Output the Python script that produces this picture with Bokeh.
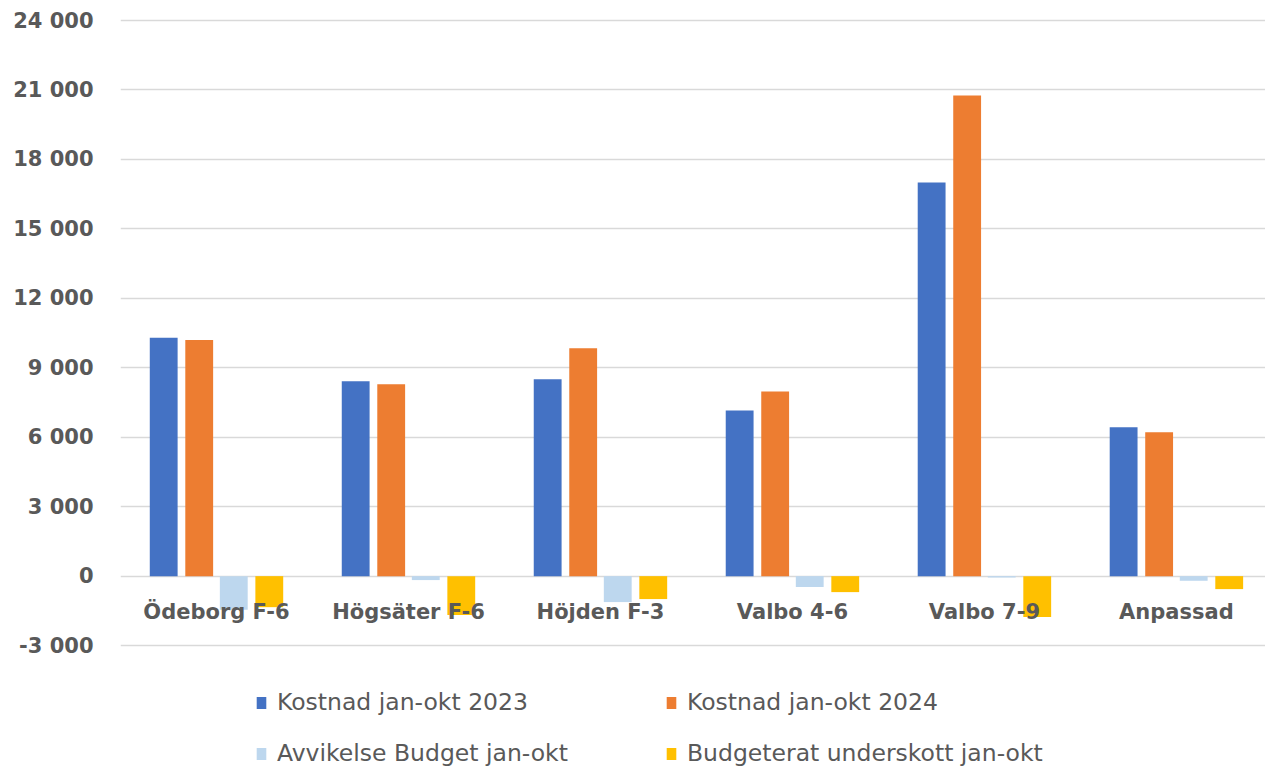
from bokeh.plotting import figure
from bokeh.models import (ColumnDataSource, Range1d, FixedTicker,
                          Legend, LegendItem)
from bokeh.transform import dodge
from bokeh.core.properties import value
from bokeh.embed import file_html
from bokeh.resources import INLINE

categories = ["Ödeborg F-6", "Högsäter F-6", "Höjden F-3", "Valbo 4-6", "Valbo 7-9", "Anpassad"]
kostnad_2023 = [10300, 8420, 8500, 7160, 17000, 6430]
kostnad_2024 = [10200, 8290, 9840, 7980, 20760, 6210]
avvikelse_budget = [-1450, -170, -1120, -470, -60, -200]
budgeterat_underskott = [-1340, -1680, -990, -690, -1770, -560]
y_ticks = [-3000, 0, 3000, 6000, 9000, 12000, 15000, 18000, 21000, 24000]
series_names = ["Kostnad jan-okt 2023", "Kostnad jan-okt 2024",
                "Avvikelse Budget jan-okt", "Budgeterat underskott jan-okt"]
colors = ["#4472C4", "#ED7D31", "#BDD7EE", "#FFC000"]


def fmt(v):
    s = f"{abs(v):,}".replace(",", " ")
    return ("-" if v < 0 else "") + s


# category slots: category i is centred at i + 0.5
src = ColumnDataSource(dict(cat=categories,
                            x=[i + 0.5 for i in range(len(categories))],
                            k23=kostnad_2023, k24=kostnad_2024,
                            avv=avvikelse_budget, bud=budgeterat_underskott,
                            zero=[0] * len(categories)))

# frame spans the whole height; the area below -3000 holds the legend.
# The last category is partly cut at the right edge, as in the reference.
p = figure(width=1265, height=770, output_backend="svg", toolbar_location=None,
           x_range=Range1d(0, 5.964),
           y_range=Range1d(-8395, 24173),
           min_border_left=120, min_border_right=0, min_border_top=16,
           min_border_bottom=0)
p.outline_line_color = None
p.background_fill_color = "white"
p.border_fill_color = "white"

offsets = [-0.275, -0.09, 0.09, 0.275]
fields = ["k23", "k24", "avv", "bud"]
renderers = []
for f, off, c in zip(fields, offsets, colors):
    r = p.vbar(x=dodge("x", off), top=f, bottom=0, width=0.145,
               source=src, fill_color=c, line_color=None)
    renderers.append(r)

# y axis
p.yaxis.ticker = FixedTicker(ticks=y_ticks)
p.yaxis.major_label_overrides = {t: fmt(t) for t in y_ticks}
p.yaxis.axis_line_color = None
p.yaxis.major_tick_line_color = None
p.yaxis.minor_tick_line_color = None
p.yaxis.major_label_standoff = 21
p.yaxis.major_label_text_font = "DejaVu Sans"
p.yaxis.major_label_text_font_style = "bold"
p.yaxis.major_label_text_font_size = "21px"
p.yaxis.major_label_text_color = "#595959"
p.ygrid.grid_line_color = "#D9D9D9"
p.ygrid.grid_line_width = 1.5
p.xgrid.grid_line_color = None
p.xaxis.visible = False

# category labels just under the zero line
p.text(x="x", y="zero", text="cat", source=src, text_align="center",
       text_baseline="middle", y_offset=36, text_font=value("DejaVu Sans"),
       text_font_style="bold", text_font_size="21px", text_color="#595959")

items = [LegendItem(label=n, renderers=[r]) for n, r in zip(series_names, renderers)]
legend = Legend(items=items, ncols=2, location=(135, 3), orientation="horizontal",
                label_text_font="DejaVu Sans", label_text_font_size="23.5px",
                label_text_color="#595959", glyph_width=12, glyph_height=15,
                label_standoff=10, label_width=365, spacing=23, padding=0,
                margin=0, border_line_color=None, background_fill_alpha=0)
p.add_layout(legend)

open("out.html", "w").write(file_html(p, INLINE))
